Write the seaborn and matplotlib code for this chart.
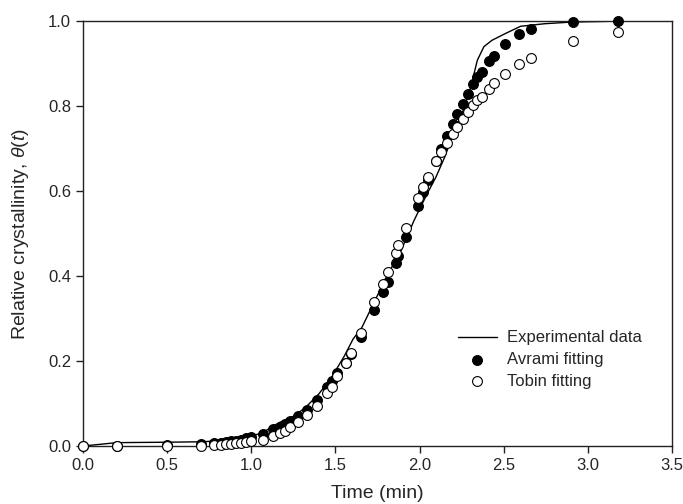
import numpy as np
import pandas as pd
import matplotlib
matplotlib.use("Agg")
import matplotlib.pyplot as plt
import seaborn as sns

# ---- data ----
exp_time = [0, 0.2, 0.5, 0.7, 0.8, 0.9, 1.0, 1.06, 1.165, 1.25, 1.32, 1.4, 1.476, 1.553,
            1.605, 1.657, 1.734, 1.812, 1.89, 1.967, 2.045, 2.097, 2.149, 2.2, 2.252,
            2.304, 2.343, 2.382, 2.43, 2.51, 2.6, 2.744, 2.907, 3.179]
exp_theta = [0, 0.008, 0.009, 0.01, 0.012, 0.016, 0.024, 0.03, 0.055, 0.07, 0.09, 0.122,
             0.161, 0.212, 0.252, 0.279, 0.342, 0.405, 0.46, 0.531, 0.594, 0.633, 0.68,
             0.735, 0.782, 0.845, 0.908, 0.94, 0.955, 0.971, 0.988, 0.994, 0.998, 1.0]

fit_time = [0, 0.2, 0.5, 0.7, 0.78, 0.82, 0.85, 0.88, 0.91, 0.94, 0.97, 1.0,
            1.07, 1.13, 1.17, 1.2, 1.23, 1.28, 1.33, 1.39, 1.45, 1.48,
            1.51, 1.56, 1.59, 1.65, 1.73, 1.78, 1.81, 1.86, 1.87, 1.92,
            1.99, 2.02, 2.05, 2.10, 2.13, 2.16, 2.20, 2.22, 2.26, 2.29,
            2.32, 2.34, 2.37, 2.41, 2.44, 2.51, 2.59, 2.66, 2.91, 3.18]
avrami = [0, 0.001, 0.002, 0.004, 0.006, 0.008, 0.009, 0.011, 0.013, 0.015, 0.018, 0.021,
          0.029, 0.039, 0.045, 0.052, 0.058, 0.071, 0.086, 0.108, 0.138, 0.152,
          0.171, 0.196, 0.216, 0.257, 0.32, 0.362, 0.387, 0.431, 0.448, 0.491,
          0.566, 0.598, 0.625, 0.672, 0.70, 0.73, 0.757, 0.782, 0.806, 0.829,
          0.852, 0.868, 0.88, 0.906, 0.918, 0.946, 0.969, 0.981, 0.998, 1.0]
tobin = [0, 0, 0, 0.001, 0.002, 0.003, 0.004, 0.005, 0.006, 0.007, 0.009, 0.011,
         0.015, 0.024, 0.031, 0.035, 0.045, 0.057, 0.072, 0.094, 0.124, 0.14,
         0.164, 0.195, 0.219, 0.267, 0.338, 0.381, 0.41, 0.454, 0.474, 0.513,
         0.583, 0.609, 0.634, 0.671, 0.692, 0.713, 0.735, 0.751, 0.769, 0.786,
         0.802, 0.814, 0.822, 0.841, 0.855, 0.875, 0.899, 0.914, 0.953, 0.975]

x_ticks = [0.0, 0.5, 1.0, 1.5, 2.0, 2.5, 3.0, 3.5]
y_ticks = [0.0, 0.2, 0.4, 0.6, 0.8, 1.0]

sns.set_style("ticks")
plt.rcParams['font.family'] = ['Liberation Sans', 'DejaVu Sans']
plt.rcParams['mathtext.fontset'] = 'custom'
plt.rcParams['mathtext.it'] = 'Liberation Sans:italic'
plt.rcParams['mathtext.rm'] = 'Liberation Sans'

fig = plt.figure(figsize=(6.83, 5.04), dpi=100)
ax = fig.add_axes([0.1215, 0.115, 0.8625, 0.843])

exp_df = pd.DataFrame({"t": exp_time, "theta": exp_theta})
fit_df = pd.DataFrame({"t": fit_time, "avrami": avrami, "tobin": tobin})

sns.lineplot(data=exp_df, x="t", y="theta", ax=ax, color="black", lw=1.0,
             label="Experimental data", sort=False, estimator=None)
sns.scatterplot(data=fit_df, x="t", y="avrami", ax=ax, color="black", s=50,
                edgecolor="black", linewidth=0.8, label="Avrami fitting", zorder=3,
                clip_on=False)
sns.scatterplot(data=fit_df, x="t", y="tobin", ax=ax, color="white", s=50,
                edgecolor="black", linewidth=0.8, label="Tobin fitting", zorder=4,
                clip_on=False)

ax.set_xlim(0, 3.5)
ax.set_ylim(0, 1.0)
ax.set_xticks(x_ticks)
ax.set_xticklabels([f"{v:.1f}" for v in x_ticks])
ax.set_yticks(y_ticks)
ax.set_yticklabels([f"{v:.1f}" for v in y_ticks])
ax.set_xlabel("Time (min)", fontsize=14, labelpad=9)
ax.set_ylabel(r"Relative crystallinity, $\theta(t)$", fontsize=14, labelpad=12)
ax.tick_params(axis="both", labelsize=12, length=5, width=1, direction="out", color="#222222")
for sp in ax.spines.values():
    sp.set_visible(True)
    sp.set_linewidth(1.0)
    sp.set_color("#222222")

leg = ax.legend(loc="upper left", bbox_to_anchor=(0.637, 0.272), frameon=False,
                fontsize=12, handlelength=2.3, handletextpad=0.6, labelspacing=0.4,
                borderpad=0, borderaxespad=0)

fig.savefig("out.png", dpi=100)
